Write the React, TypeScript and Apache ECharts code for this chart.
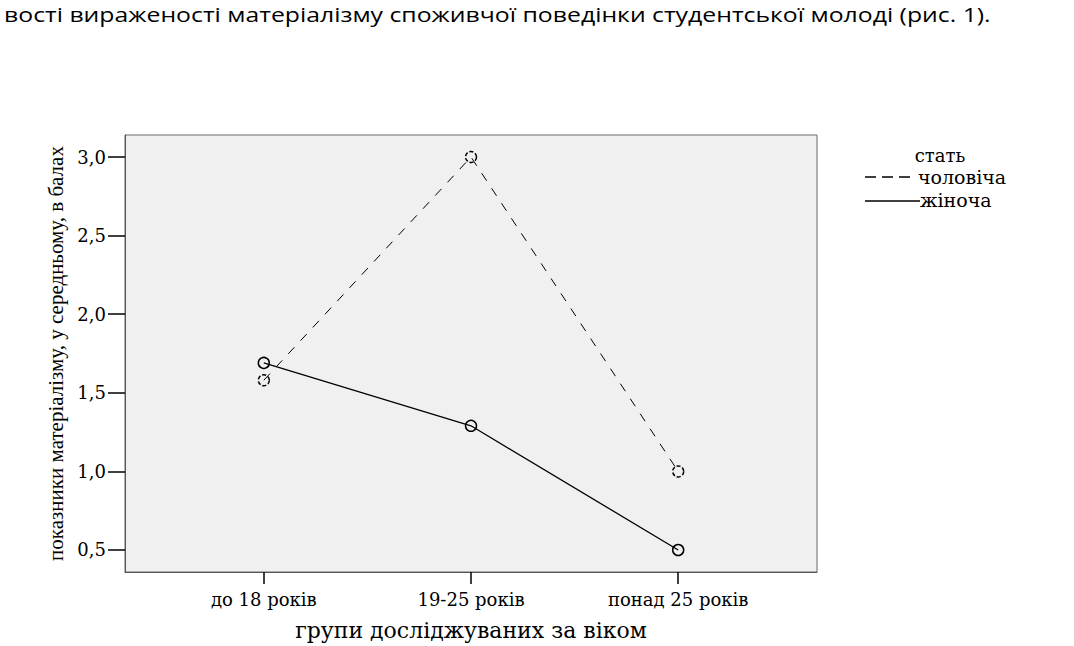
import React, { useEffect, useRef } from "react";
import * as echarts from "echarts";

const categories = ["до 18 років", "19-25 років", "понад 25 років"];
const maleValues = [1.58, 3.0, 1.0];
const femaleValues = [1.69, 1.29, 0.5];
const yTicks = [0.5, 1.0, 1.5, 2.0, 2.5, 3.0];
const xTicks = [0, 1, 2];
const legendTitle = "стать";
const maleName = "чоловіча";
const femaleName = "жіноча";
const yTitle = "показники матеріалізму, у середньому, в балах";
const xTitle = "групи досліджуваних за віком";
const topText = "вості вираженості матеріалізму споживчої поведінки студентської молоді (рис. 1).";

const serif = "'Liberation Serif', 'DejaVu Serif', serif";
const wideSerif = "'DejaVu Serif', 'Liberation Serif', serif";

export default function App() {
  const ref = useRef<HTMLDivElement>(null);
  useEffect(() => {
    if (!ref.current) return;
    const chart = echarts.init(ref.current, undefined, { renderer: "svg" });
    const toPairs = (arr: number[]) => arr.map((v, i) => [i, v]);
    chart.setOption({
      animation: false,
      backgroundColor: "#ffffff",
      grid: {
        left: 125,
        top: 135,
        width: 692,
        height: 437,
        outerBoundsMode: "none",
        containLabel: false,
        show: true,
        backgroundColor: "#f0f0f0",
        borderColor: "#6a6a6a",
        borderWidth: 1,
      },
      xAxis: {
        type: "value",
        min: -0.67,
        max: 2.67,
        splitLine: { show: false },
        axisLine: { show: true, onZero: false, lineStyle: { color: "#555" } },
        axisTick: {
          show: true,
          length: 12,
          customValues: xTicks,
          lineStyle: { color: "#000", width: 1.5 },
        },
        axisLabel: {
          customValues: xTicks,
          formatter: (v: number) => categories[Math.round(v)] ?? "",
          margin: 18,
          fontFamily: wideSerif,
          fontSize: 18,
          color: "#000",
        },
        name: xTitle,
        nameLocation: "middle",
        nameGap: 47,
        nameTextStyle: { fontFamily: wideSerif, fontSize: 22, color: "#000" },
      },
      yAxis: {
        type: "value",
        min: 0.36,
        max: 3.14,
        splitLine: { show: false },
        axisLine: { show: true, onZero: false, lineStyle: { color: "#555" } },
        axisTick: {
          show: true,
          length: 17,
          customValues: yTicks,
          lineStyle: { color: "#000", width: 1.5 },
        },
        axisLabel: {
          customValues: yTicks,
          formatter: (v: number) => v.toFixed(1).replace(".", ","),
          margin: 19,
          fontFamily: wideSerif,
          fontSize: 18,
          color: "#000",
        },
        name: yTitle,
        nameLocation: "middle",
        nameRotate: 90,
        nameGap: 47,
        nameTextStyle: { fontFamily: serif, fontSize: 21, color: "#000" },
      },
      series: [
        {
          name: maleName,
          type: "line",
          data: toPairs(maleValues),
          symbol: "circle",
          symbolSize: 11,
          itemStyle: { color: "rgba(0,0,0,0)", borderColor: "#000", borderWidth: 1.5, borderType: [4, 2] },
          lineStyle: { color: "#000", width: 1, type: [9, 9] },
        },
        {
          name: femaleName,
          type: "line",
          data: toPairs(femaleValues),
          symbol: "circle",
          symbolSize: 11,
          itemStyle: { color: "rgba(0,0,0,0)", borderColor: "#000", borderWidth: 1.5 },
          lineStyle: { color: "#000", width: 1.3 },
        },
      ],
      graphic: [
        {
          type: "text",
          x: 4,
          y: 4,
          scaleX: 1.24,
          style: {
            text: topText,
            font: "20px 'Open Sans', 'Noto Sans', sans-serif",
            fill: "#000",
            verticalAlign: "top",
          },
        },
        {
          type: "text",
          x: 940,
          y: 155,
          style: {
            text: legendTitle,
            font: `18px ${wideSerif}`,
            fill: "#000",
            align: "center",
            verticalAlign: "middle",
          },
        },
        {
          type: "line",
          shape: { x1: 865, y1: 177, x2: 916, y2: 177 },
          style: { stroke: "#000", lineWidth: 1.3, lineDash: [11, 6] },
        },
        {
          type: "text",
          x: 918,
          y: 177,
          style: {
            text: maleName,
            font: `19px ${wideSerif}`,
            fill: "#000",
            verticalAlign: "middle",
          },
        },
        {
          type: "line",
          shape: { x1: 865, y1: 201, x2: 920, y2: 201 },
          style: { stroke: "#000", lineWidth: 1.3 },
        },
        {
          type: "text",
          x: 920,
          y: 200,
          style: {
            text: femaleName,
            font: `19px ${wideSerif}`,
            fill: "#000",
            verticalAlign: "middle",
          },
        },
      ],
    });
    return () => chart.dispose();
  }, []);
  return (
    <div
      ref={ref}
      style={{ position: "absolute", left: 0, top: 0, width: 1074, height: 646 }}
    />
  );
}
